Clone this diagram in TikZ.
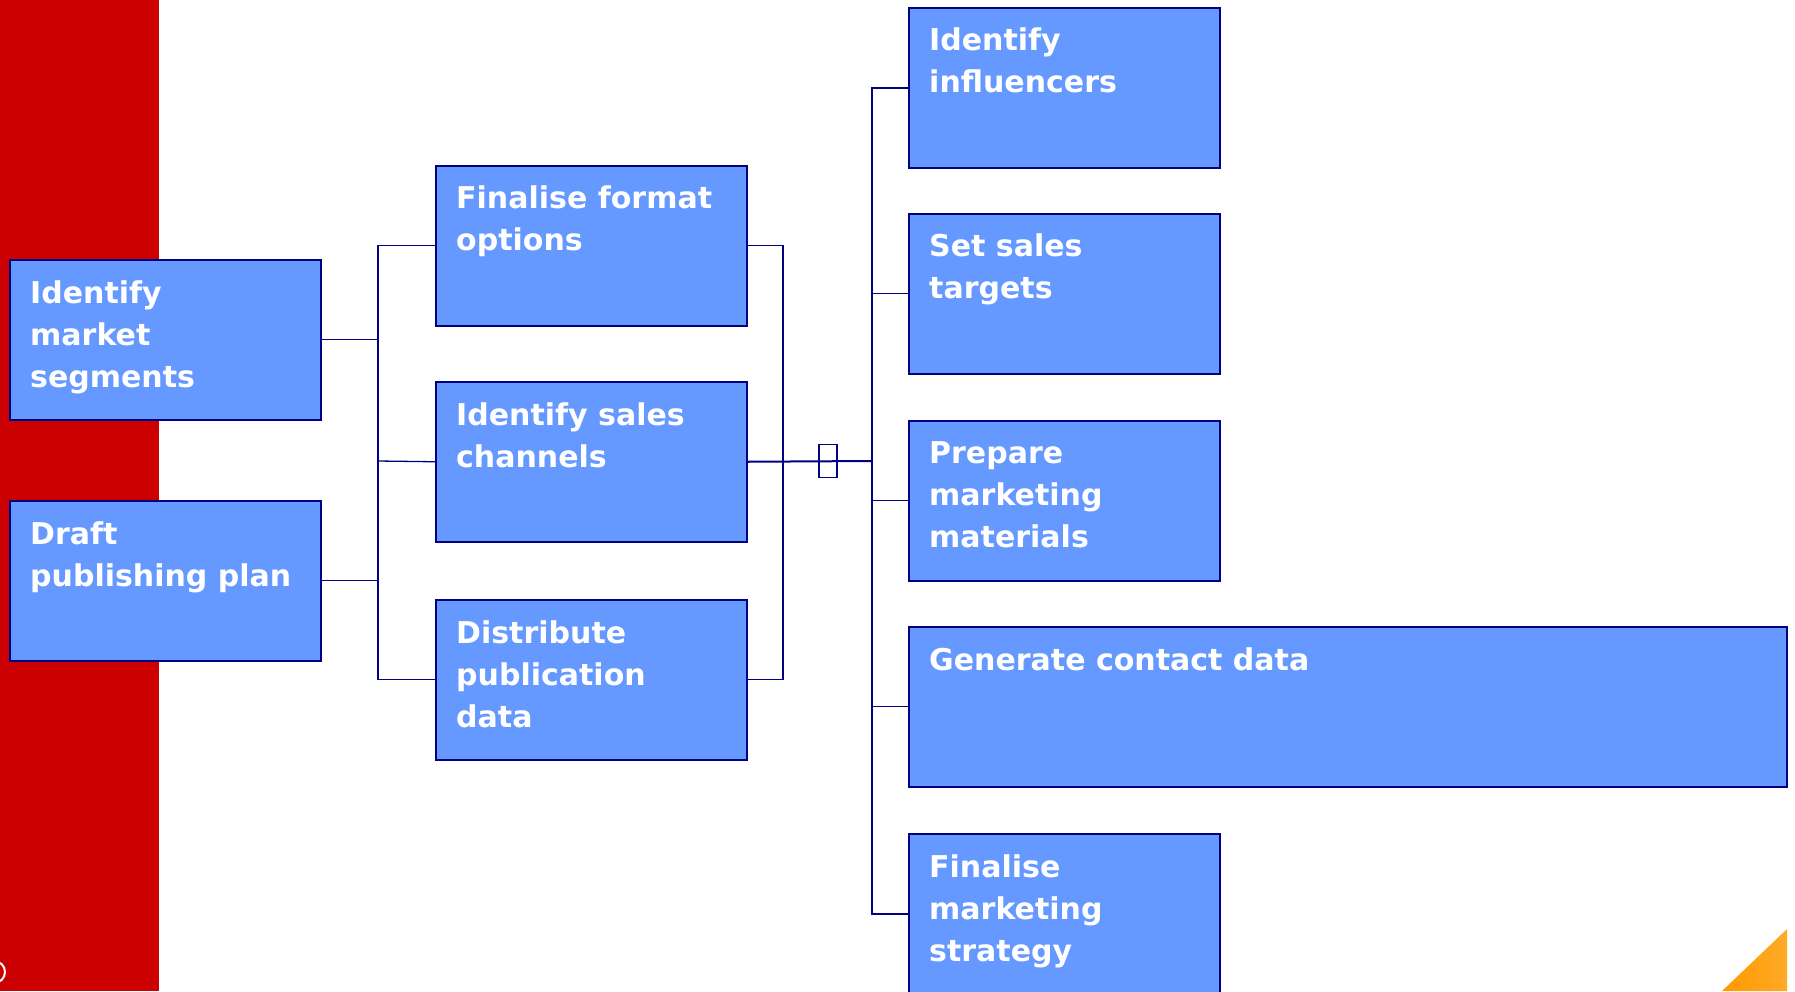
\documentclass[tikz,border=0pt]{standalone}
\usepackage{fontspec}
\setmainfont{DejaVu Sans}
\usepackage{tikz}
\definecolor{bandred}{RGB}{204,0,0}
\definecolor{boxblue}{RGB}{102,153,255}
\definecolor{linenavy}{RGB}{0,0,128}
\definecolor{cornerorange}{RGB}{255,153,0}
\definecolor{cornerlight}{RGB}{255,170,40}
\tikzset{
	node_step/.style = {
		rectangle,
		draw=linenavy,
		fill=boxblue,
		line width=1.5pt,
		minimum width=311pt,
		minimum height=160pt,
		inner sep=0pt,
		anchor=north west
	},
	node_wide/.style = {
		node_step,
		minimum width=878pt
	},
	node_label/.style = {
		anchor=north west,
		align=left,
		inner sep=0pt,
		xshift=21pt,
		yshift=-21pt,
		text=white,
		font=\bfseries\fontsize{30}{42}\selectfont
	},
	node_knot/.style = {
		rectangle,
		draw=linenavy,
		line width=1.3pt,
		inner sep=0pt,
		minimum width=18pt,
		minimum height=33pt
	},
	link/.style = {
		draw=linenavy,
		line width=1.3pt
	},
}

\begin{document}
\begin{tikzpicture}[x=1pt, y=-1pt]
\useasboundingbox (0,0) rectangle (1795,991);
\fill [bandred] (0,0) rectangle (159,991);
\draw [white, line width=2pt] (-6,972) circle (11);
\shade [left color=cornerorange, right color=cornerlight] (1722,991) -- (1787,929) -- (1787,991) -- cycle;

\node [node_step, label={[node_label]north west:{Identify\\market\\segments}}] (market) at (9,259) {};
\node [node_step, label={[node_label]north west:{Draft\\publishing plan}}] (draft) at (9,500) {};

\node [node_step, label={[node_label]north west:{Finalise format\\options}}] (format) at (435,165) {};
\node [node_step, label={[node_label]north west:{Identify sales\\channels}}] (channels) at (435,381) {};
\node [node_step, label={[node_label]north west:{Distribute\\publication\\data}}] (distribute) at (435,599) {};

\node [node_step, label={[node_label]north west:{Identify\\influencers}}] (influencers) at (908,7) {};
\node [node_step, label={[node_label]north west:{Set sales\\targets}}] (targets) at (908,213) {};
\node [node_step, label={[node_label]north west:{Prepare\\marketing\\materials}}] (materials) at (908,420) {};
\node [node_wide, label={[node_label]north west:{Generate contact data}}] (contacts) at (908,626) {};
\node [node_step, label={[node_label]north west:{Finalise\\marketing\\strategy}}] (strategy) at (908,833) {};

\coordinate (left_bus) at (378,461);
\coordinate (mid_bus) at (783,461);
\coordinate (hub) at (872,461);

\draw [link] (market.east) -- (market.east -| left_bus);
\draw [link] (draft.east) -- (draft.east -| left_bus);
\draw [link] (format.west) -| (left_bus) |- (distribute.west);
\draw [link] (left_bus) -- (channels.west);

\draw [link] (format.east) -| (mid_bus) |- (distribute.east);
\draw [link, line width=2pt] (channels.east) -- (hub);
\node [node_knot] (knot) at (828,461) {};

\draw [link, line width=1.8pt] (influencers.west) -| (hub) |- (strategy.west);
\draw [link] (targets.west -| hub) -- (targets.west);
\draw [link] (materials.west -| hub) -- (materials.west);
\draw [link] (contacts.west -| hub) -- (contacts.west);
\end{tikzpicture}
\end{document}
